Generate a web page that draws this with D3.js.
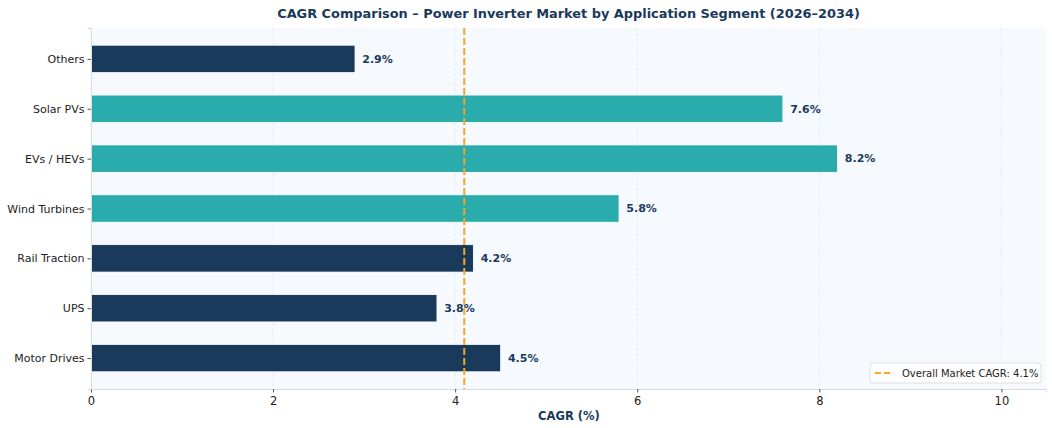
<!DOCTYPE html>
<html>
<head>
<meta charset="utf-8">
<script src="https://cdn.jsdelivr.net/npm/d3@7"></script>
<style>
  body { margin: 0; background: #fff; }
  svg { font-family: "DejaVu Sans", sans-serif; }
</style>
</head>
<body>
<svg id="chart"></svg>
<script>
// segments listed bottom to top, as in the chart
const segments = ["Motor Drives", "UPS", "Rail Traction", "Wind Turbines", "EVs / HEVs", "Solar PVs", "Others"];
const cagr = [4.5, 3.8, 4.2, 5.8, 8.2, 7.6, 2.9];
const highGrowth = [false, false, false, true, true, true, false];
const overallCagr = 4.1;
const xTicks = [0, 2, 4, 6, 8, 10];

const width = 1052, height = 428;
const margin = { top: 28, right: 6, bottom: 39, left: 91 };
const navy = "#1a3a5c", teal = "#2aacad", orange = "#f5a623";

const svg = d3.select("#chart").attr("width", width).attr("height", height);
const w = width - margin.left - margin.right;
const h = height - margin.top - margin.bottom;

const g = svg.append("g").attr("transform", `translate(${margin.left},${margin.top})`);

const x = d3.scaleLinear().domain([0, 10.49]).range([0, w]);
const y = d3.scaleLinear().domain([-0.62, segments.length - 1 + 0.62]).range([h, 0]);
const barH = 0.55;

// plot background
g.append("rect").attr("width", w).attr("height", h).attr("fill", "#f6f9fe");

// vertical grid
g.selectAll(".grid").data(xTicks).join("line")
  .attr("x1", d => x(d)).attr("x2", d => x(d))
  .attr("y1", 0).attr("y2", h)
  .attr("stroke", "#e3e7ee").attr("stroke-width", 0.8).attr("stroke-dasharray", "3,2");

// bars
g.selectAll(".bar").data(segments).join("rect")
  .attr("x", x(0))
  .attr("y", (d, i) => y(i + barH / 2))
  .attr("width", (d, i) => x(cagr[i]) - x(0))
  .attr("height", y(0) - y(barH))
  .attr("fill", (d, i) => highGrowth[i] ? teal : navy)
  .attr("stroke", "#fff").attr("stroke-width", 0.8);

// value labels
g.selectAll(".val").data(segments).join("text")
  .attr("x", (d, i) => x(cagr[i] + 0.08))
  .attr("y", (d, i) => y(i))
  .attr("dy", "0.35em")
  .attr("font-size", 11).attr("font-weight", "bold").attr("fill", navy)
  .text((d, i) => cagr[i].toFixed(1) + "%");

// overall market line
g.append("line")
  .attr("x1", x(overallCagr)).attr("x2", x(overallCagr))
  .attr("y1", 0).attr("y2", h)
  .attr("stroke", orange).attr("stroke-width", 2).attr("stroke-dasharray", "7,3");

// axes
const xAxis = g.append("g").attr("transform", `translate(0,${h})`)
  .call(d3.axisBottom(x).tickValues(xTicks).tickSize(3.5).tickPadding(4));
xAxis.select(".domain").attr("stroke", "#d8dde5");
xAxis.selectAll(".tick line").attr("stroke", "#555");
xAxis.selectAll("text").attr("font-size", 11.5).attr("fill", "#222").attr("font-family", "DejaVu Sans");

const yAxis = g.append("g")
  .call(d3.axisLeft(y).tickValues(d3.range(segments.length)).tickFormat(i => segments[i]).tickSize(3.5).tickPadding(3));
yAxis.select(".domain").attr("stroke", "#d8dde5");
yAxis.selectAll(".tick line").attr("stroke", "#555");
yAxis.selectAll("text").attr("font-size", 11).attr("fill", "#222").attr("font-family", "DejaVu Sans");

// x label
svg.append("text")
  .attr("x", margin.left + x(5.25)).attr("y", 420)
  .attr("text-anchor", "middle")
  .attr("font-size", 11.5).attr("font-weight", "bold").attr("fill", navy)
  .text("CAGR (%)");

// title
svg.append("text")
  .attr("x", margin.left + w / 2).attr("y", 18)
  .attr("text-anchor", "middle")
  .attr("font-size", 12.9).attr("font-weight", "bold").attr("fill", navy)
  .text("CAGR Comparison – Power Inverter Market by Application Segment (2026–2034)");

// legend
const lg = g.append("g").attr("transform", `translate(${w - 176},${h - 26})`);
lg.append("rect").attr("width", 171).attr("height", 20).attr("rx", 3)
  .attr("fill", "#fff").attr("fill-opacity", 0.85).attr("stroke", "#e0e0e0");
lg.append("line").attr("x1", 5).attr("x2", 23).attr("y1", 10).attr("y2", 10)
  .attr("stroke", orange).attr("stroke-width", 2).attr("stroke-dasharray", "6,3");
lg.append("text").attr("x", 32).attr("y", 10).attr("dy", "0.35em")
  .attr("font-size", 10).attr("fill", "#222")
  .text("Overall Market CAGR: 4.1%");
</script>
</body>
</html>
